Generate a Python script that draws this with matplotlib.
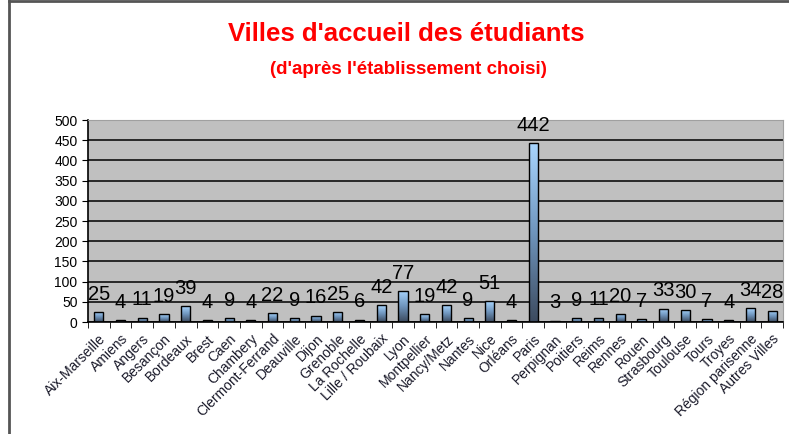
import numpy as np
import matplotlib
matplotlib.use("Agg")
import matplotlib.pyplot as plt
from matplotlib.lines import Line2D
from matplotlib.colors import LinearSegmentedColormap

villes = ["Aix-Marseille", "Amiens", "Angers", "Besançon", "Bordeaux", "Brest",
          "Caen", "Chambery", "Clermont-Ferrand", "Deauville", "Dijon", "Grenoble",
          "La Rochelle", "Lille / Roubaix", "Lyon", "Montpellier", "Nancy/Metz",
          "Nantes", "Nice", "Orléans", "Paris", "Perpignan", "Poitiers", "Reims",
          "Rennes", "Rouen", "Strasbourg", "Toulouse", "Tours", "Troyes",
          "Région parisenne", "Autres Villes"]
etudiants = [25, 4, 11, 19, 39, 4, 9, 4, 22, 9, 16, 25, 6, 42, 77, 19, 42,
             9, 51, 4, 442, 3, 9, 11, 20, 7, 33, 30, 7, 4, 34, 28]

plt.rcParams['font.family'] = ['Liberation Sans', 'DejaVu Sans']

fig = plt.figure(figsize=(7.89, 4.34), dpi=100)
ax = fig.add_axes([0.1115, 0.258, 0.881, 0.4655])
ax.set_facecolor("#c0c0c0")

# border of the chart: left and top only
fig.lines.append(Line2D([0.011, 0.011], [0, 0.997], transform=fig.transFigure,
                        color="#555555", linewidth=2))
fig.lines.append(Line2D([0.011, 1.0], [0.997, 0.997], transform=fig.transFigure,
                        color="#555555", linewidth=2))

x = np.arange(len(villes))
bars = ax.bar(x, etudiants, width=0.42, color="none", edgecolor="black",
              linewidth=1.0, zorder=3)

# vertical gradient inside each bar
cmap = LinearSegmentedColormap.from_list("bleu", ["#3c4a5e", "#6f95bd", "#a9d6ff"])
grad = np.linspace(0, 1, 256).reshape(-1, 1)
for b in bars:
    im = ax.imshow(grad, cmap=cmap, origin="lower", aspect="auto", zorder=2,
                   extent=[b.get_x(), b.get_x() + b.get_width(), 0, b.get_height()])
    im.set_clip_path(b)

for xi, v in zip(x, etudiants):
    ax.annotate(str(v), (xi, v), xytext=(0, 6), textcoords="offset points",
                ha="center", va="bottom", fontsize=14.5, zorder=4)

ax.set_xlim(-0.5, len(villes) - 0.5)
ax.set_ylim(0, 500)
ax.set_yticks(range(0, 501, 50))
ax.yaxis.grid(True, color="black", linewidth=1.1, zorder=1)
ax.set_axisbelow(True)

ax.set_xticks(x)
ax.set_xticklabels(villes, rotation=45, ha="right", rotation_mode="anchor",
                   fontsize=10, color="#1a1a2a")
ax.set_xticks(np.arange(-0.5, len(villes), 1), minor=True)
ax.tick_params(axis="x", which="major", length=0, pad=7)
ax.tick_params(axis="x", which="minor", length=4, direction="out")
ax.tick_params(axis="y", labelsize=10, length=4)

ax.spines["top"].set_color("#a0a0a0")
ax.spines["right"].set_color("#a0a0a0")
ax.spines["left"].set_linewidth(1.2)
ax.spines["bottom"].set_linewidth(1.2)

fig.text(0.515, 0.922, "Villes d'accueil des étudiants", color="red", fontsize=18.5,
         fontweight="bold", ha="center", va="center")
fig.text(0.518, 0.84, "(d'après l'établissement choisi)", color="red", fontsize=13.5,
         fontweight="bold", ha="center", va="center")

fig.savefig("out.png", dpi=100)
